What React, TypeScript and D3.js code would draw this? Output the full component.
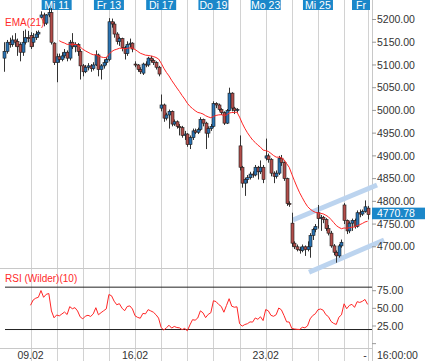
import React from "react";
import * as d3 from "d3";

// ---- OHLC data (hourly bars, 10 per day) ----
const opens = [
  5115, 5130, 5150, 5145, 5155, 5152, 5145, 5128, 5150, 5160,
  5165, 5150, 5160, 5168, 5205, 5210, 5192, 5210, 5215, 5148,
  5105, 5118, 5112, 5120, 5128, 5115, 5150, 5140, 5145, 5130,
  5098, 5085, 5095, 5098, 5092, 5100, 5122, 5090, 5098, 5105,
  5112, 5195, 5190, 5168, 5152, 5158, 5138, 5125, 5145, 5148,
  5102, 5100, 5090, 5082, 5102, 5100, 5115, 5110, 5105, 5095,
  5005, 5012, 4983, 4990, 4998, 4970, 4975, 4965, 4962, 4945,
  4948, 4925, 4940, 4955, 4952, 4958, 4980, 4972, 4950, 4960,
  4965, 5015, 5012, 5002, 4995, 4972, 5000, 5038, 5005, 5000,
  4922, 4875, 4840, 4848, 4852, 4860, 4858, 4875, 4865, 4875,
  4895, 4900, 4892, 4862, 4855, 4862, 4895, 4885, 4850, 4795,
  4752, 4708, 4700, 4694, 4692, 4700, 4694, 4700, 4725, 4738,
  4775, 4762, 4765, 4760, 4740, 4730, 4702, 4688, 4680, 4702,
  4792, 4758, 4735, 4752, 4758, 4745, 4775, 4772, 4778, 4785,
];
const highs = [
  5150, 5155, 5160, 5165, 5170, 5158, 5150, 5175, 5178, 5175,
  5172, 5170, 5175, 5176, 5218, 5215, 5212, 5225, 5225, 5150,
  5125, 5125, 5128, 5135, 5132, 5155, 5170, 5150, 5148, 5135,
  5102, 5100, 5104, 5102, 5106, 5132, 5125, 5102, 5112, 5118,
  5203, 5202, 5195, 5172, 5162, 5160, 5142, 5152, 5158, 5150,
  5108, 5102, 5095, 5105, 5108, 5118, 5120, 5114, 5108, 5098,
  5035, 5015, 4995, 5002, 5000, 4980, 4978, 4970, 4966, 4955,
  4950, 4945, 4960, 4960, 4962, 4985, 4982, 4975, 4965, 4970,
  5020, 5018, 5015, 5005, 4998, 5003, 5050, 5040, 5008, 5005,
  4945, 4878, 4852, 4858, 4865, 4866, 4880, 4878, 4890, 4880,
  4938, 4905, 4895, 4866, 4868, 4900, 4902, 4888, 4852, 4800,
  4775, 4712, 4705, 4700, 4705, 4703, 4712, 4730, 4742, 4750,
  4792, 4770, 4768, 4763, 4748, 4735, 4706, 4692, 4706, 4716,
  4796, 4760, 4756, 4762, 4762, 4780, 4782, 4782, 4802, 4790,
];
const lows = [
  5085, 5125, 5138, 5140, 5140, 5120, 5108, 5120, 5145, 5150,
  5135, 5140, 5155, 5160, 5203, 5185, 5188, 5205, 5145, 5100,
  5062, 5105, 5108, 5115, 5108, 5110, 5135, 5128, 5120, 5068,
  5075, 5082, 5088, 5085, 5088, 5098, 5075, 5068, 5092, 5100,
  5108, 5182, 5160, 5145, 5142, 5130, 5112, 5120, 5138, 5128,
  5095, 5085, 5080, 5078, 5095, 5096, 5105, 5100, 5090, 5075,
  4998, 4975, 4978, 4960, 4965, 4966, 4960, 4945, 4940, 4935,
  4920, 4915, 4935, 4948, 4948, 4955, 4965, 4915, 4940, 4955,
  4962, 5005, 4998, 4990, 4968, 4970, 4998, 4998, 4992, 4995,
  4868, 4830, 4812, 4840, 4848, 4852, 4855, 4848, 4860, 4840,
  4890, 4885, 4855, 4840, 4850, 4858, 4878, 4845, 4790, 4788,
  4700, 4695, 4690, 4685, 4688, 4680, 4690, 4676, 4715, 4732,
  4740, 4735, 4752, 4735, 4725, 4698, 4682, 4665, 4676, 4698,
  4750, 4728, 4730, 4735, 4740, 4742, 4765, 4768, 4775, 4760,
];
const closes = [
  5130, 5150, 5145, 5155, 5150, 5140, 5128, 5150, 5160, 5158,
  5140, 5160, 5168, 5172, 5210, 5192, 5210, 5215, 5150, 5105,
  5118, 5112, 5120, 5128, 5115, 5150, 5140, 5145, 5130, 5098,
  5085, 5095, 5098, 5092, 5100, 5122, 5090, 5098, 5105, 5112,
  5195, 5190, 5168, 5152, 5158, 5138, 5125, 5145, 5148, 5135,
  5100, 5090, 5085, 5102, 5100, 5115, 5110, 5105, 5095, 5080,
  5012, 4983, 4990, 4998, 4970, 4975, 4965, 4962, 4945, 4948,
  4925, 4940, 4955, 4952, 4958, 4980, 4972, 4950, 4960, 4965,
  5015, 5012, 5002, 4995, 4972, 5000, 5038, 5005, 5000, 5002,
  4875, 4840, 4848, 4852, 4860, 4858, 4875, 4865, 4875, 4848,
  4900, 4892, 4862, 4855, 4862, 4895, 4885, 4850, 4795, 4793,
  4708, 4700, 4694, 4692, 4700, 4694, 4700, 4725, 4738, 4745,
  4762, 4765, 4760, 4740, 4730, 4702, 4688, 4680, 4702, 4710,
  4758, 4735, 4752, 4758, 4745, 4775, 4772, 4778, 4788, 4770.78,
];

// ---- axis / annotation values ----
const dayStartIdx = [10, 20, 30, 40, 50, 60, 70, 80, 90, 100, 110, 120, 130, 139];
const topLabels = ["Mi 11", "Fr 13", "Di 17", "Do 19", "Mo 23", "Mi 25", "Fr"];
const topLabelIdx = [20, 40, 60, 80, 100, 120, 139];
const bottomLabels = ["09.02", "16.02", "23.02"];
const bottomLabelIdx = [10, 50, 100];
const priceTicks = [4700, 4750, 4800, 4850, 4900, 4950, 5000, 5050, 5100, 5150, 5200];
const rsiTicks = [25, 50, 75];
const rsiLevels = [20, 80];
const lastPrice = 4770.78;
const channelUpper: [number, number][] = [[110.4, 4759], [142.6, 4836]];
const channelLower: [number, number][] = [[116.6, 4644], [145.3, 4715]];
const emaPeriod = 21;
const rsiPeriod = 10;

const W = 425, H = 361;
const AXIS_X = 372;
const UP = "#2a74b4";
const DOWN = "#b24e4a";
const GRID = "#d2d2d2";
const FONT = "'Liberation Sans', Arial, sans-serif";
const BLUE = "#1b87c9";

function computeEMA(vals: number[], n: number) {
  const k = 2 / (n + 1);
  const out: { i: number; v: number }[] = [];
  let prev = d3.mean(vals.slice(0, n)) as number;
  for (let i = n; i < vals.length; i++) {
    prev = vals[i] * k + prev * (1 - k);
    out.push({ i, v: prev });
  }
  return out;
}

function computeRSI(vals: number[], n: number) {
  const out: { i: number; v: number }[] = [];
  let g = 0, l = 0;
  for (let i = 1; i <= n; i++) {
    const ch = vals[i] - vals[i - 1];
    if (ch > 0) g += ch; else l -= ch;
  }
  g /= n; l /= n;
  out.push({ i: n, v: 100 - 100 / (1 + g / (l || 1e-9)) });
  for (let i = n + 1; i < vals.length; i++) {
    const ch = vals[i] - vals[i - 1];
    g = (g * (n - 1) + Math.max(ch, 0)) / n;
    l = (l * (n - 1) + Math.max(-ch, 0)) / n;
    out.push({ i, v: 100 - 100 / (1 + g / (l || 1e-9)) });
  }
  return out;
}

export default function App() {
  const x = d3.scaleLinear().domain([0, 139]).range([4.4, 4.4 + 139 * 2.613]);
  const y = d3.scaleLinear().domain([4700, 5200]).range([246.8, 19.5]);
  const ry = d3.scaleLinear().domain([25, 75]).range([326, 290.7]);

  const ema = computeEMA(closes, emaPeriod);
  const rsi = computeRSI(closes, rsiPeriod);
  const emaPath = d3.line<{ i: number; v: number }>().x(d => x(d.i)).y(d => y(d.v))(ema) || "";
  const rsiPath = d3.line<{ i: number; v: number }>().x(d => x(d.i)).y(d => ry(d.v))(rsi) || "";
  const px = (i: number) => Math.round(x(i)) + 0.5;
  const lastY = y(lastPrice);

  return (
    <svg width={W} height={H} style={{ position: "fixed", left: 0, top: 0, background: "#fff" }} fontFamily={FONT}>
      <rect x={0} y={0} width={W} height={H} fill="#fff" />
      {/* vertical day grid */}
      {dayStartIdx.map((d, k) => (
        <line key={"g" + k} x1={px(d)} x2={px(d)} y1={0} y2={H} stroke={GRID} strokeWidth={1} />
      ))}
      {/* panel separators */}
      <line x1={0} x2={AXIS_X} y1={268.5} y2={268.5} stroke="#c8c8c8" />
      <line x1={0} x2={AXIS_X} y1={348.5} y2={348.5} stroke="#c8c8c8" />
      <line x1={AXIS_X + 0.5} x2={AXIS_X + 0.5} y1={0} y2={H} stroke="#c8c8c8" />

      {/* top day labels */}
      {topLabels.map((t, k) => {
        const w = Math.max(18, t.length * 5.4 + 3);
        const c = x(topLabelIdx[k]);
        const right = Math.min(c + w / 2, 370);
        const left = right - w;
        return (
          <g key={"tl" + k}>
            <rect x={left} y={-1} width={w} height={11} fill={BLUE} />
            <text x={left + w / 2} y={8.6} fill="#fff" fontSize={10.5} textAnchor="middle">{t}</text>
          </g>
        );
      })}

      {/* channel lines */}
      {[channelUpper, channelLower].map((c, k) => (
        <line key={"ch" + k} x1={x(c[0][0])} y1={y(c[0][1])} x2={x(c[1][0])} y2={y(c[1][1])}
          stroke="#bcd4ef" strokeWidth={5} />
      ))}

      {/* candles */}
      {closes.map((c, i) => {
        const o = opens[i];
        const cx = px(i);
        const top = y(Math.max(o, c));
        const bot = y(Math.min(o, c));
        return (
          <g key={"c" + i}>
            <line x1={cx} x2={cx} y1={y(highs[i])} y2={y(lows[i])} stroke="#333" strokeWidth={1} />
            <rect x={cx - 1.5} y={top} width={3} height={Math.max(1, bot - top)}
              fill={c >= o ? UP : DOWN} stroke="#1a1a1a" strokeWidth={0.6} />
          </g>
        );
      })}

      {/* EMA */}
      <path d={emaPath} fill="none" stroke="#ff2626" strokeWidth={1} />
      <text x={5} y={26} fill="#ff2a2a" fontSize={10}>EMA(21)</text>

      {/* price axis */}
      {priceTicks.map((t, k) => (
        <g key={"pt" + k}>
          <line x1={AXIS_X} x2={AXIS_X + 4} y1={y(t)} y2={y(t)} stroke="#999" />
          <text x={AXIS_X + 5} y={y(t)} dy="0.35em" fontSize={10.5} fill="#333">{t.toFixed(2)}</text>
        </g>
      ))}
      <rect x={AXIS_X} y={lastY - 7} width={W - AXIS_X} height={11.6} fill={BLUE} />
      <text x={AXIS_X + 5} y={lastY - 1.2} dy="0.35em" fontSize={10.5} fill="#fff">{lastPrice.toFixed(2)}</text>

      {/* RSI panel */}
      <text x={5} y={281.5} fill="#ff2a2a" fontSize={10}>RSI (Wilder)(10)</text>
      {rsiLevels.map((l, k) => (
        <line key={"rl" + k} x1={5} x2={AXIS_X} y1={ry(l)} y2={ry(l)} stroke="#222" strokeWidth={1} />
      ))}
      <path d={rsiPath} fill="none" stroke="#ff2626" strokeWidth={1} />
      {rsiTicks.map((t, k) => (
        <g key={"rt" + k}>
          <line x1={AXIS_X} x2={AXIS_X + 4} y1={ry(t)} y2={ry(t)} stroke="#999" />
          <text x={AXIS_X + 5} y={ry(t)} dy="0.35em" fontSize={10.5} fill="#333">{t.toFixed(2)}</text>
        </g>
      ))}
      <line x1={AXIS_X} x2={AXIS_X + 4} y1={ry(0)} y2={ry(0)} stroke="#999" />

      {/* bottom time axis */}
      {bottomLabels.map((t, k) => (
        <text key={"bl" + k} x={x(bottomLabelIdx[k])} y={359} fontSize={10.5} fill="#333" textAnchor="middle">{t}</text>
      ))}
      <text x={365} y={359} fontSize={10.5} fill="#333" textAnchor="middle">-</text>
      <text x={AXIS_X + 5} y={359} fontSize={10.5} fill="#333">16:00:00</text>
    </svg>
  );
}
